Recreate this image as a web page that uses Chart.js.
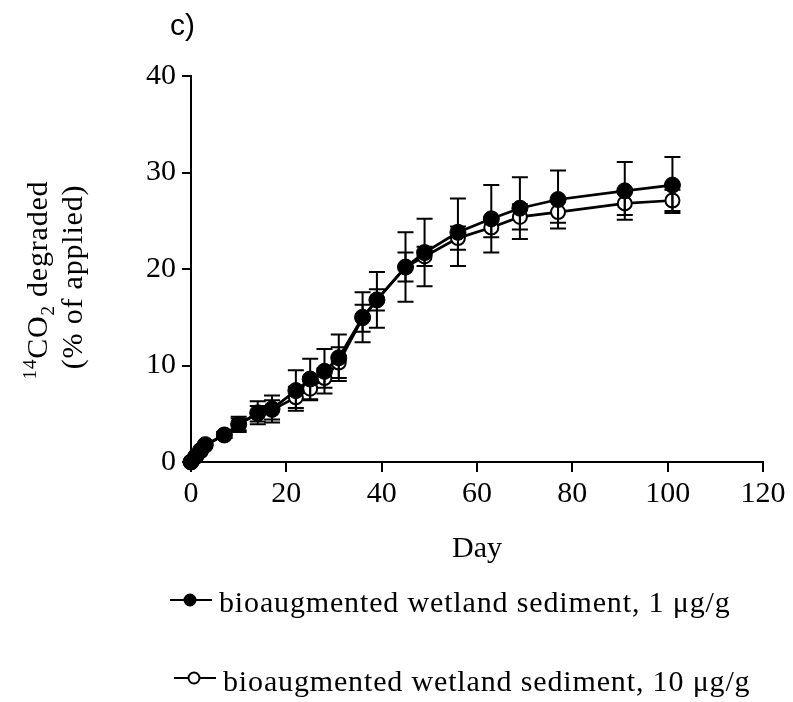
<!DOCTYPE html>
<html>
<head>
<meta charset="utf-8">
<script src="https://cdn.jsdelivr.net/npm/chart.js@4.4.0/dist/chart.umd.min.js"></script>
<style>
body{margin:0;background:#fff;}
canvas{display:block;}
</style>
</head>
<body>
<canvas id="chartCO2" width="793" height="702"></canvas>
<script>

const days = [0,1,2,3,7,10,14,17,22,25,28,31,36,39,45,49,56,63,69,77,91,101];

const dose1    = [0,0.6,1.2,1.8,2.8,3.9,5.1,5.5,7.4,8.6,9.4,10.8,15.0,16.8,20.2,21.7,23.8,25.2,26.3,27.2,28.1,28.7];
const dose1Err = [0,0,0,0,0.3,0.8,1.2,1.4,2.1,2.1,2.3,2.4,2.6,2.9,3.6,3.5,3.5,3.5,3.2,3.0,3.0,2.9];

const dose10    = [0,0.5,1.1,1.7,2.8,3.9,5.0,5.4,6.7,7.6,8.7,10.3,14.9,16.8,20.2,21.3,23.2,24.3,25.4,25.9,26.8,27.1];
const dose10Err = [0,0,0,0,0.3,0.6,0.8,1.0,1.1,1.2,1.0,1.6,1.4,1.1,1.5,1.0,1.2,1.0,1.3,1.1,1.2,1.1];

const xTicks = [0,20,40,60,80,100,120];
const yTicks = [0,10,20,30,40];

const seriesNames = [
"bioaugmented wetland sediment, 1 μg/g",
"bioaugmented wetland sediment, 10 μg/g"
];

const serif = "'Liberation Serif','Times New Roman',serif";
const sans = "'Liberation Sans',Arial,sans-serif";

function points(values){
return days.map((d,i)=>({x:d,y:values[i]}));
}

/* vertical error bars with caps */

const errorBars = {
id:"errorBars",
afterDatasetsDraw(chart){
let ctx = chart.ctx;
let xs = chart.scales.x, ys = chart.scales.y;
ctx.save();
ctx.strokeStyle = "#000";
ctx.lineWidth = 2;
chart.data.datasets.forEach(ds=>{
ds.data.forEach((p,i)=>{
let e = ds.errors[i];
if(!e) return;
let x = xs.getPixelForValue(p.x);
let top = ys.getPixelForValue(p.y+e);
let bot = ys.getPixelForValue(p.y-e);
ctx.beginPath();
ctx.moveTo(x,top); ctx.lineTo(x,bot);
ctx.moveTo(x-8,top); ctx.lineTo(x+8,top);
ctx.moveTo(x-8,bot); ctx.lineTo(x+8,bot);
ctx.stroke();
});
});
ctx.restore();
}
};

/* text pieces: mixed-size runs on one baseline */

function drawRuns(ctx, runs){
let w = 0;
runs.forEach(r=>{ ctx.font = r.size+"px "+serif; w += ctx.measureText(r.text).width; });
let x = -w/2;
runs.forEach(r=>{
ctx.font = r.size+"px "+serif;
ctx.fillText(r.text, x, r.dy||0);
x += ctx.measureText(r.text).width;
});
}

const annotations = {
id:"annotations",
afterDraw(chart){
let ctx = chart.ctx;
ctx.save();
ctx.fillStyle = "#000";
ctx.textBaseline = "alphabetic";
ctx.textAlign = "left";

/* panel letter */
ctx.font = "30px "+sans;
ctx.fillText("c)",170,35);

/* y axis title, two rotated lines */
ctx.save();
ctx.translate(47,280);
ctx.rotate(-Math.PI/2);
ctx.letterSpacing = "0.8px";
drawRuns(ctx,[
{text:"14",size:19,dy:-11},
{text:"CO",size:30},
{text:"2",size:19,dy:7},
{text:" degraded",size:30}
]);
ctx.restore();

ctx.save();
ctx.translate(82,277);
ctx.rotate(-Math.PI/2);
ctx.letterSpacing = "0.8px";
drawRuns(ctx,[{text:"(% of applied)",size:30}]);
ctx.restore();

/* legend */
let rows = [{y:600, text:611.7, x:170, tx:219},{y:678, text:691, x:174, tx:223}];
chart.data.datasets.forEach((ds,i)=>{
let r = rows[i];
ctx.strokeStyle = "#000";
ctx.lineWidth = 2;
ctx.beginPath();
ctx.moveTo(r.x,r.y); ctx.lineTo(r.x+42,r.y);
ctx.stroke();
ctx.beginPath();
ctx.arc(r.x+20,r.y,5.5,0,Math.PI*2);
ctx.fillStyle = ds.pointBackgroundColor;
ctx.fill();
ctx.stroke();
ctx.fillStyle = "#000";
ctx.font = "30px "+serif;
ctx.letterSpacing = "0.85px";
ctx.fillText(ds.label, r.tx, r.text);
ctx.letterSpacing = "0px";
});

ctx.restore();
}
};

new Chart(document.getElementById("chartCO2"),{
type:"line",
data:{
datasets:[
{
label:seriesNames[0],
data:points(dose1),
errors:dose1Err,
borderColor:"#000",
borderWidth:2.7,
pointRadius:8,
pointBackgroundColor:"#000",
pointBorderColor:"#000",
pointBorderWidth:1,
tension:0,
clip:false
},
{
label:seriesNames[1],
data:points(dose10),
errors:dose10Err,
borderColor:"#000",
borderWidth:2.7,
pointRadius:7,
pointBackgroundColor:"#fff",
pointBorderColor:"#000",
pointBorderWidth:2,
tension:0,
clip:false
}
]
},
options:{
responsive:false,
animation:false,
devicePixelRatio:1,
layout:{padding:{left:0,right:30,top:76,bottom:135}},
plugins:{legend:{display:false},tooltip:{enabled:false}},
scales:{
x:{
type:"linear",
min:0,
max:120,
afterFit:s=>{ s.height = 105; },
afterBuildTicks:s=>{ s.ticks = xTicks.map(v=>({value:v})); },
ticks:{color:"#000",font:{family:serif,size:30},padding:4,maxRotation:0,autoSkip:false},
grid:{drawOnChartArea:false,tickLength:10,color:"#000",lineWidth:2},
border:{color:"#000",width:2},
title:{display:true,text:"Day",color:"#000",font:{family:serif,size:30},padding:{top:0,bottom:0}}
},
y:{
min:0,
max:40,
afterFit:s=>{ s.width = 191; },
afterBuildTicks:s=>{ s.ticks = yTicks.map(v=>({value:v})); },
ticks:{color:"#000",font:{family:serif,size:30},padding:6,autoSkip:false},
grid:{drawOnChartArea:false,tickLength:9,color:"#000",lineWidth:2},
border:{color:"#000",width:2}
}
}
},
plugins:[errorBars,annotations]
});

</script>
</body>
</html>
